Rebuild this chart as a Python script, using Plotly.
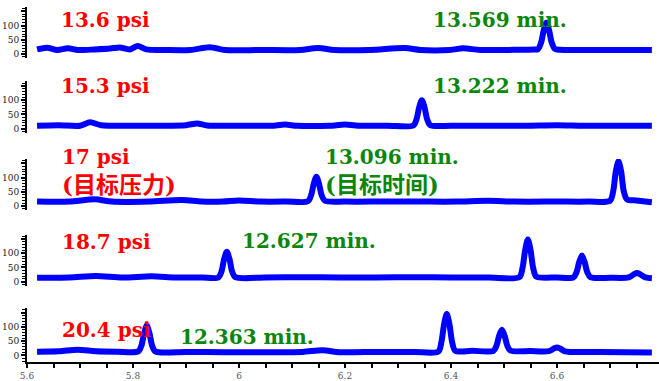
import plotly.graph_objects as go

# Retention time axis (min) and detector response per column head pressure
x_136 = [5.619, 5.638, 5.657, 5.677, 5.696, 5.728, 5.757, 5.775, 5.794, 5.809, 5.825, 5.86, 5.908,
         5.945, 5.974, 6.04, 6.115, 6.149, 6.18, 6.247, 6.313, 6.342, 6.398, 6.423, 6.455, 6.53,
         6.556, 6.564, 6.570, 6.575, 6.580, 6.585, 6.590, 6.596, 6.606, 6.643, 6.719, 6.779]
y_136 = [16, 22, 14, 20, 14, 16, 19, 23, 16, 28, 16, 14, 14,
         24, 14, 14, 14, 21, 14, 14, 21, 14, 14, 20, 14, 15,
         16, 17, 40, 84, 110, 84, 40, 18, 15, 14, 14, 14]

x_153 = [5.619, 5.66, 5.70, 5.719, 5.74, 5.79, 5.85, 5.90, 5.921, 5.94, 6.0, 6.06, 6.087, 6.11,
         6.17, 6.2, 6.23, 6.28, 6.329, 6.335, 6.340, 6.345, 6.350, 6.355, 6.361, 6.40, 6.47,
         6.54, 6.60, 6.65, 6.72, 6.779]
y_153 = [10, 12, 10, 22, 12, 10, 10, 12, 18, 11, 10, 10, 14, 10,
         10, 14, 10, 10, 11, 33, 75, 100, 75, 33, 12, 10, 10,
         10, 12, 10, 10, 10]

x_170 = [5.619, 5.68, 5.728, 5.76, 5.83, 5.892, 5.93, 5.97, 6.0, 6.04, 6.09, 6.130, 6.136,
         6.141, 6.146, 6.151, 6.156, 6.162, 6.20, 6.27, 6.34, 6.41, 6.47, 6.52, 6.60, 6.66,
         6.700, 6.706, 6.711, 6.716, 6.721, 6.726, 6.732, 6.75, 6.779]
y_170 = [16, 16, 24, 16, 16, 22, 16, 16, 20, 16, 16, 17, 38,
         78, 103, 78, 38, 19, 16, 16, 16, 16, 19, 16, 16, 16,
         19, 52, 122, 158, 122, 52, 24, 20, 14]

x_187 = [5.619, 5.68, 5.73, 5.78, 5.835, 5.88, 5.93, 5.961, 5.967, 5.972, 5.977, 5.982, 5.987,
         5.993, 6.05, 6.12, 6.19, 6.26, 6.33, 6.40, 6.47, 6.529, 6.535, 6.540, 6.545, 6.550,
         6.555, 6.561, 6.60, 6.631, 6.637, 6.642, 6.647, 6.652, 6.657, 6.663, 6.70, 6.735,
         6.745, 6.751, 6.757, 6.767, 6.779]
y_187 = [14, 15, 20, 15, 19, 15, 15, 15, 36, 80, 105, 80, 36,
         16, 15, 16, 15, 15, 16, 15, 15, 16, 49, 112, 148, 112,
         49, 18, 15, 15, 34, 70, 92, 70, 34, 16, 14, 15,
         26, 31, 26, 15, 12]

x_204 = [5.619, 5.66, 5.696, 5.73, 5.77, 5.810, 5.816, 5.821, 5.826, 5.831, 5.836, 5.842, 5.90,
         5.97, 6.05, 6.12, 6.157, 6.19, 6.26, 6.33, 6.376, 6.382, 6.387, 6.392, 6.397, 6.402,
         6.408, 6.44, 6.480, 6.486, 6.491, 6.496, 6.501, 6.506, 6.512, 6.55, 6.585, 6.594,
         6.600, 6.606, 6.615, 6.68, 6.779]
y_204 = [13, 14, 20, 14, 13, 14, 35, 78, 105, 78, 35, 14, 12,
         11, 11, 12, 18, 11, 12, 12, 13, 48, 110, 145, 110, 48,
         16, 16, 16, 35, 70, 90, 70, 35, 17, 15, 15, 24,
         28, 24, 14, 12, 10]

series_x = [x_136, x_153, x_170, x_187, x_204]
series_y = [y_136, y_153, y_170, y_187, y_204]

pressure_labels = ["13.6 psi", "15.3 psi", "17 psi", "18.7 psi", "20.4 psi"]
time_labels = ["13.569 min.", "13.222 min.", "13.096 min.", "12.627 min.", "12.363 min."]
target_pressure_note = "(目标压力)"
target_time_note = "(目标时间)"

x_tick_vals = [5.6, 5.8, 6.0, 6.2, 6.4, 6.6]

# ---- layout geometry (pixels in a 659x381 page) ----
W, H = 659, 381
L = 27
PX_PER_UNIT = 0.29
zero_px = [55, 131, 210, 287, 362]
top_px = [7, 83, 162, 239, 314]
bottom_px = [59, 135, 214, 291, 369]

SERIF = "DejaVu Serif, Noto Sans CJK SC"
BLUE = "#0000ff"
RED = "#ff0000"
GREEN = "#0a860a"

fig = go.Figure()
for i in range(5):
    fig.add_trace(go.Scatter(
        x=series_x[i], y=series_y[i], mode="lines",
        line=dict(color=BLUE, width=6, shape="spline", smoothing=0.8),
        xaxis="x" if i == 4 else f"x{i + 2}",
        yaxis="y" if i == 0 else f"y{i + 1}",
        showlegend=False, hoverinfo="skip"))

layout = dict(
    width=W, height=H, margin=dict(l=L, r=0, t=0, b=0),
    paper_bgcolor="white", plot_bgcolor="white",
    font=dict(family=SERIF, size=9, color="#333"),
)

x_range = [5.6, 5.6 + (W - L) / 530.0]

for i in range(5):
    y_hi = (zero_px[i] - top_px[i]) / PX_PER_UNIT
    y_lo = -(bottom_px[i] - zero_px[i]) / PX_PER_UNIT
    dom = [1 - bottom_px[i] / H, 1 - top_px[i] / H]
    yname = "yaxis" if i == 0 else f"yaxis{i + 1}"
    xanchor = "x" if i == 4 else f"x{i + 2}"
    layout[yname] = dict(
        domain=dom, range=[y_lo, y_hi], anchor=xanchor,
        showgrid=False, zeroline=False,
        showline=True, linecolor="black", linewidth=2,
        tickmode="linear", tick0=0, dtick=50,
        labelalias={"150": " "},
        ticks="outside", ticklen=4, tickwidth=1.5, tickcolor="black",
        minor=dict(tickmode="linear", tick0=0, dtick=10, ticks="outside",
                   ticklen=3, tickwidth=1, tickcolor="black"),
        tickfont=dict(family=SERIF, size=9, color="#222"),
        fixedrange=True,
    )
    yref = "y" if i == 0 else f"y{i + 1}"
    if i == 4:
        layout["xaxis"] = dict(
            domain=[0, 1], range=x_range, anchor="y5",
            showgrid=False, zeroline=False,
            showline=True, linecolor="black", linewidth=2,
            ticks="outside", ticklen=4, tickwidth=1.5, tickcolor="black",
            tickvals=x_tick_vals, ticktext=["5.6", "5.8", "6", "6.2", "6.4", "6.6"],
            minor=dict(tickmode="linear", dtick=0.05, tick0=5.6, ticks="outside", ticklen=4,
                       tickwidth=1.5, tickcolor="black"),
            tickfont=dict(family=SERIF, size=9, color="#555"),
            fixedrange=True,
        )
    else:
        layout[f"xaxis{i + 2}"] = dict(
            domain=[0, 1], range=x_range, anchor=yref, matches="x",
            visible=False, fixedrange=True,
        )

fig.update_layout(**layout)


def px_to_paper(xp, yp):
    return (xp - L) / (W - L), 1 - yp / H


def label(text, xp, yp, color, size=20):
    xx, yy = px_to_paper(xp, yp)
    fig.add_annotation(
        x=xx, y=yy, xref="paper", yref="paper", text=f"<b>{text}</b>",
        showarrow=False, xanchor="left", yanchor="middle",
        font=dict(family=SERIF, size=size, color=color))


# pressure labels (left) and retention time labels
label(pressure_labels[0], 59, 20, RED)
label(time_labels[0], 431, 20, GREEN)
label(pressure_labels[1], 59, 88, RED)
label(time_labels[1], 431, 88, GREEN)
label(pressure_labels[2], 60, 160, RED)
label(target_pressure_note, 60, 188, RED, size=23)
label(time_labels[2], 323, 160, GREEN)
label(target_time_note, 323, 188, GREEN, size=23)
label(pressure_labels[3], 60, 247, RED)
label(time_labels[3], 240, 246, GREEN)
label(pressure_labels[4], 60, 336, RED)
label(time_labels[4], 178, 343, GREEN)

fig.write_html("out.html")
